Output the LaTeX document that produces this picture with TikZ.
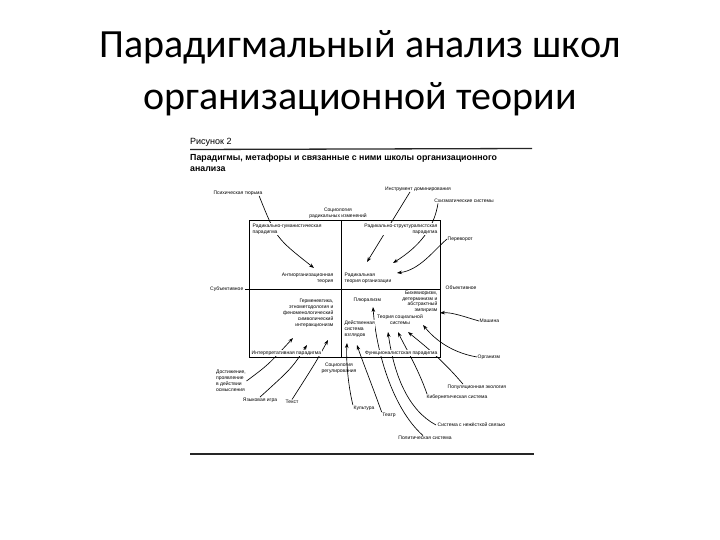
\documentclass[tikz,border=0pt]{standalone}
\usepackage{fontspec}
\setmainfont{Liberation Sans}
\newfontfamily\titlefont{Carlito}
\usetikzlibrary{arrows.meta}

\tikzset{
  lab/.style={font=\fontsize{5}{6}\selectfont, inner sep=0.5pt, align=center},
  quad/.style={lab, fill=white},
  arr/.style={-{Stealth[length=5pt,width=3.6pt]}, line width=0.65pt},
  rule/.style={line width=1.3pt, black!85},
}

\begin{document}
\begin{tikzpicture}[x=1pt,y=-1pt]
    \useasboundingbox (0,0) rectangle (720,540);

    % titolo
    \node[anchor=base, font=\titlefont\fontsize{40}{48}\selectfont] (t1) at (360,58) {Парадигмальный анализ школ};
    \node[anchor=base, font=\titlefont\fontsize{40}{48}\selectfont] (t2) at (360,110) {организационной теории};

    % intestazione della figura
    \node[anchor=base west, font=\fontsize{9}{10}\selectfont, inner sep=0] (fig) at (190,145) {Рисунок 2};
    \draw[rule] (190,149.5) -- (532,148.5);
    \node[anchor=north west, align=left, inner sep=0, font=\bfseries\fontsize{8.8}{11}\selectfont] (head) at (190,154)
        {Парадигмы, метафоры и связанные с ними школы организационного\\анализа};
    \draw[rule] (190,454) -- (534,454);

    % quadranti
    \draw[line width=0.9pt] (249,220) rectangle (440,357);
    \draw[line width=0.9pt] (341,220) -- (341,357);
    \draw[line width=0.9pt] (245,289) -- (440,289);

    \node[lab] (radch) at (338,213) {Социология\\радикальных изменений};
    \node[lab] (regul) at (339,368) {Социология\\регулирования};
    \node[lab, anchor=east] (subj) at (244,289) {Субъективное};
    \node[lab, anchor=west] (obj) at (445,288) {Объективное};

    % metafore
    \node[lab] (prison) at (238,193) {Психическая тюрьма};
    \node[lab] (domin) at (418,189) {Инструмент доминирования};
    \node[lab] (schism) at (464,201) {Схизматические системы};
    \node[lab, anchor=west] (perev) at (447,239) {Переворот};
    \node[lab, anchor=west] (mach) at (479,321) {Машина};
    \node[lab, anchor=west] (organ) at (477,357) {Организм};
    \node[lab, anchor=west] (popul) at (447,387) {Популяционная экология};
    \node[lab, anchor=west] (kiber) at (426,397) {Кибернетическая система};
    \node[lab, anchor=west] (loose) at (437,425) {Система с нежёсткой связью};
    \node[lab] (polit) at (425,438) {Политическая система};
    \node[lab] (teatr) at (389,415) {Театр};
    \node[lab] (kult) at (364,408) {Культура};
    \node[lab] (tekst) at (292,402) {Текст};
    \node[lab] (yazyk) at (260,400) {Языковая игра};
    \node[lab, align=left] (dost) at (231,381) {Достижение,\\проявление\\в действии\\осмысления};

    % punte delle frecce
    \coordinate (pA) at (314,268);
    \coordinate (pB) at (367,262);
    \coordinate (pC) at (393,263);
    \coordinate (pD) at (397,273);
    \coordinate (pE) at (440,313);
    \coordinate (pJ) at (423,325);
    \coordinate (pF) at (388,332);
    \coordinate (pG) at (398,332);
    \coordinate (pH) at (408,332);
    \coordinate (pP) at (373,307);
    \coordinate (pK) at (347,343);
    \coordinate (pL) at (357,345);
    \coordinate (pM) at (293,338);
    \coordinate (pN) at (307,345);
    \coordinate (pO) at (328,340);

    % frecce
    \draw[arr] ([xshift=-4pt]prison.south east) .. controls (276,238) .. (pA);
    \draw[arr] ([xshift=-8pt]domin.south) -- (pB);
    \draw[arr] ([xshift=-26pt]schism.south) .. controls (434,228) and (420,246) .. (pC);
    \draw[arr] (perev.west) .. controls (434,250) and (420,270) .. (pD);
    \draw[arr] (mach.west) .. controls (465,317) and (452,312) .. (pE);
    \draw[arr] (organ.west) .. controls (448,352) and (432,336) .. (pJ);
    \draw[arr] ([xshift=-14pt]popul.north) .. controls (440,357) and (420,342) .. (pH);
    \draw[arr] ([xshift=1pt]kiber.north west) .. controls (418,368) and (404,345) .. (pG);
    \draw[arr] ([xshift=-1pt]loose.west) .. controls (408,410) and (394,375) .. (pF);
    \draw[arr] ([xshift=-2pt]polit.north) .. controls (392,408) and (376,350) .. (pP);
    \draw[arr] (teatr.north west) .. controls (372,385) and (362,360) .. (pL);
    \draw[arr] (kult.north west) .. controls (348,385) and (346,360) .. (pK);
    \draw[arr] (dost.east) .. controls (268,365) .. (pM);
    \draw[arr] (yazyk.north) .. controls (292,368) .. (pN);
    \draw[arr] (tekst.north) .. controls (316,362) .. (pO);

    % paradigmi e scuole
    \node[quad, anchor=north west, align=left] (rh) at (252,223) {Радикально-гуманистическая\\парадигма};
    \node[quad, anchor=north east, align=right] (rs) at (438,223) {Радикально-структуралистская\\парадигма};
    \node[quad, anchor=south west, align=left] (interp) at (251,356) {Интерпретативная парадигма};
    \node[quad, anchor=south east, align=right] (funct) at (438,356) {Функционалистская парадигма};

    \node[quad, anchor=north east, align=right] (antiorg) at (334,272) {Антиорганизационная\\теория};
    \node[quad, anchor=north west, align=left] (radorg) at (344,272) {Радикальная\\теория организации};
    \node[quad, anchor=north east, align=right] (herm) at (334,298)
        {Герменевтика,\\этнометодология и\\феноменологический\\символический\\интеракционизм};
    \node[quad, anchor=west] (plur) at (353,300) {Плюрализм};
    \node[quad, anchor=north east, align=right, font=\fontsize{5}{5.6}\selectfont] (behav) at (438,290.5)
        {Бихевиоризм,\\детерминизм и\\абстрактный\\эмпиризм};
    \node[quad] (socsys) at (400,320) {Теория социальной\\системы};
    \node[quad, anchor=north west, align=left] (action) at (344,320) {Действенная\\система\\взглядов};
\end{tikzpicture}
\end{document}
